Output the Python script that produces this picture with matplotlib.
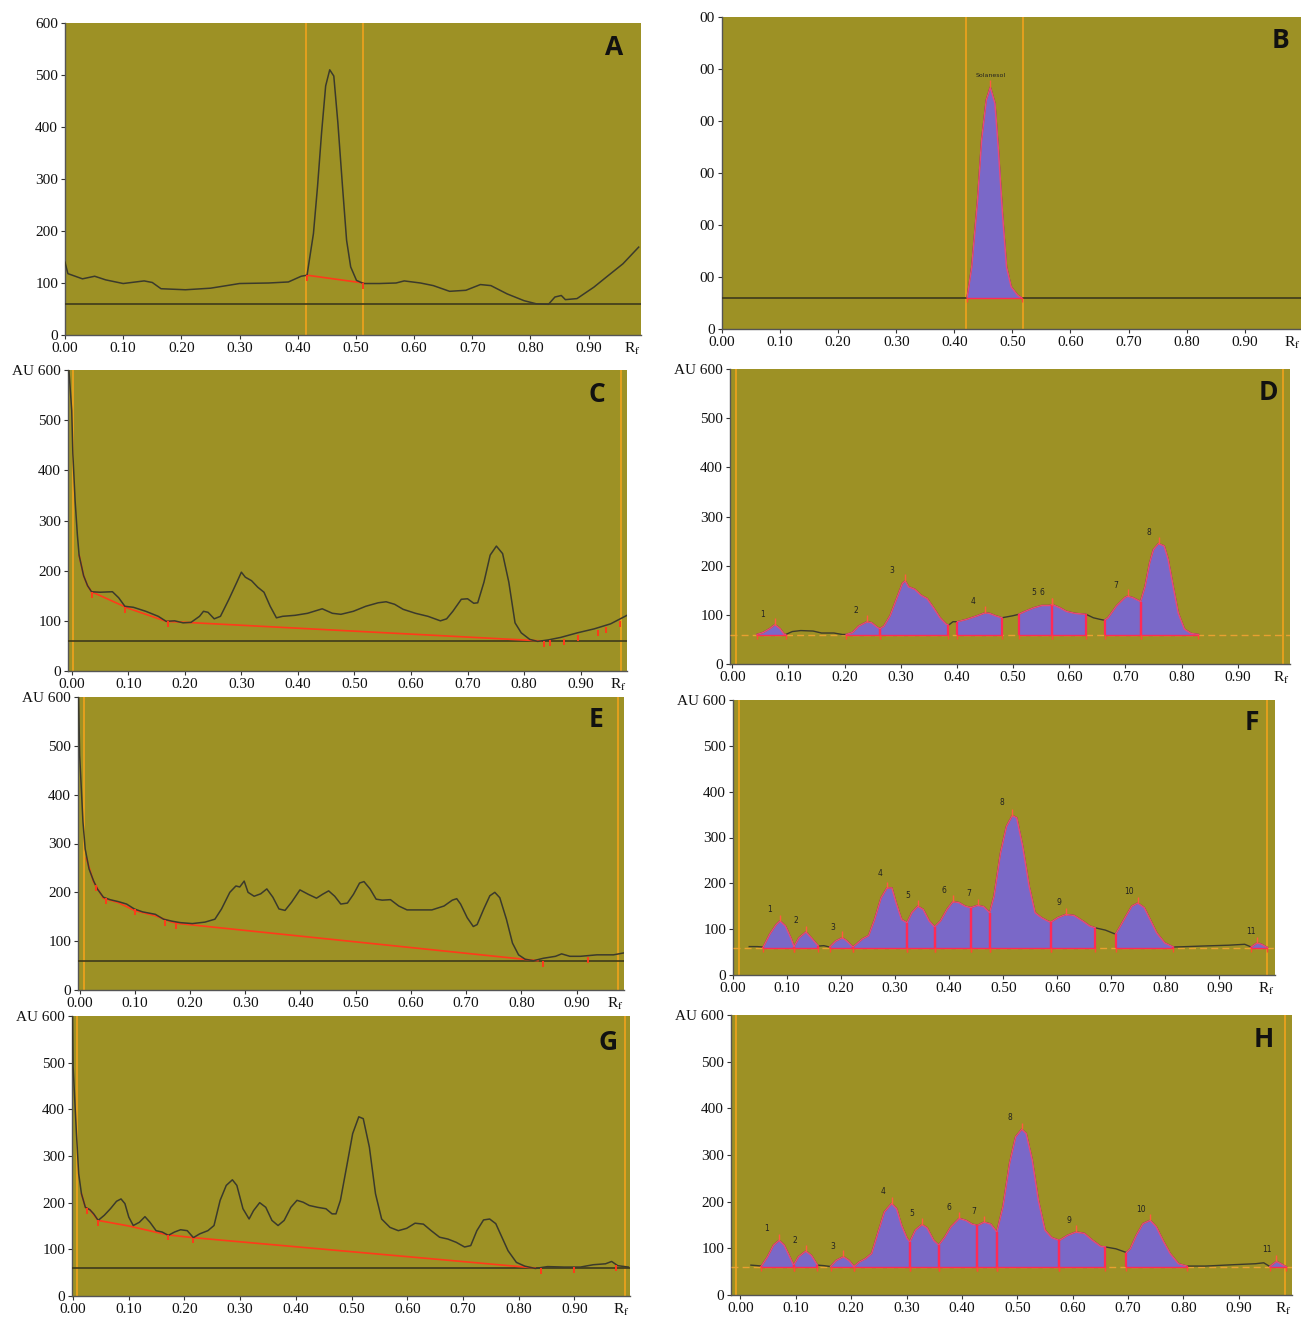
import numpy as np
import matplotlib
matplotlib.use('Agg')
import matplotlib.pyplot as plt

plt.rcParams['font.family'] = ['Liberation Serif', 'DejaVu Serif']
plt.rcParams['mathtext.fontset'] = 'stix'

# ---------------- data (Rf, AU) ----------------
x_ticks = [0.0, 0.1, 0.2, 0.3, 0.4, 0.5, 0.6, 0.7, 0.8, 0.9]
x_tick_labels = ['0.00', '0.10', '0.20', '0.30', '0.40', '0.50', '0.60', '0.70', '0.80', '0.90']
y_ticks = [0, 100, 200, 300, 400, 500, 600]
baseline_au = 60

# A: standard, raw scan
a_rf = [0.000, 0.005, 0.03, 0.051, 0.07, 0.10, 0.136, 0.15, 0.165, 0.207, 0.25, 0.278, 0.30, 0.35,
        0.384, 0.406, 0.416, 0.427, 0.434, 0.441, 0.448, 0.455, 0.462, 0.469, 0.477, 0.484, 0.491,
        0.501, 0.513, 0.54, 0.569, 0.583, 0.611, 0.633, 0.661, 0.689, 0.714, 0.732, 0.76, 0.789,
        0.81, 0.831, 0.842, 0.853, 0.86, 0.88, 0.909, 0.93, 0.959, 0.986]
a_au = [140, 118, 108, 113, 106, 99, 104, 101, 89, 87, 90, 95, 99, 100,
        102, 113, 115, 195, 285, 389, 479, 510, 498, 408, 285, 182, 131,
        105, 99, 99, 100, 104, 100, 95, 84, 86, 97, 95, 79, 66,
        60, 59, 73, 76, 68, 70, 92, 111, 137, 169]
a_red_rf = [0.416, 0.513]
a_red_au = [115, 100]

# B: standard, integrated peak
b_rf = [0.422, 0.43, 0.44, 0.447, 0.455, 0.462, 0.47, 0.476, 0.483, 0.49, 0.498, 0.509, 0.516]
b_au = [60, 119, 248, 363, 440, 465, 434, 344, 222, 119, 81, 65, 60]
b_windows = [(0.422, 0.516)]
b_label = 'Solanesol'

# C: raw scan
c_rf = [-0.005, 0.0, 0.002, 0.006, 0.01, 0.013, 0.021, 0.028, 0.035, 0.05, 0.072, 0.083, 0.094, 0.109,
        0.131, 0.153, 0.167, 0.182, 0.197, 0.211, 0.226, 0.233, 0.241, 0.252, 0.263, 0.278, 0.292,
        0.30, 0.307, 0.318, 0.329, 0.34, 0.351, 0.362, 0.373, 0.395, 0.417, 0.443, 0.461, 0.476,
        0.498, 0.52, 0.542, 0.556, 0.571, 0.586, 0.608, 0.63, 0.652, 0.663, 0.674, 0.689, 0.70,
        0.711, 0.718, 0.729, 0.74, 0.751, 0.762, 0.773, 0.784, 0.795, 0.81, 0.824, 0.843, 0.865,
        0.894, 0.924, 0.953, 0.982]
c_au = [600, 519, 433, 339, 271, 231, 190, 170, 158, 157, 158, 146, 129, 127,
        119, 109, 99, 100, 96, 97, 109, 119, 117, 104, 109, 143, 177,
        197, 187, 180, 167, 157, 129, 106, 109, 111, 115, 124, 115, 113,
        119, 129, 136, 138, 133, 123, 115, 109, 100, 104, 119, 143, 144,
        135, 136, 177, 231, 249, 234, 177, 96, 76, 63, 59, 62, 67,
        76, 84, 94, 111]
c_red_rf = [0.013, 0.021, 0.028, 0.035, 0.10, 0.167, 0.83]
c_red_au = [231, 190, 170, 158, 125, 99, 60]
c_tick_rf = [0.035, 0.095, 0.17, 0.835, 0.845, 0.87, 0.895, 0.93, 0.945, 0.97]
c_tick_au = [158, 128, 99, 60, 61, 64, 72, 82, 88, 100]

# D: integrated version of C
d_rf = [0.044, 0.055, 0.067, 0.076, 0.085, 0.092, 0.095, 0.107, 0.122, 0.144, 0.159, 0.181, 0.196,
        0.203, 0.214, 0.225, 0.24, 0.248, 0.259, 0.263, 0.27, 0.281, 0.292, 0.303, 0.308, 0.314,
        0.325, 0.336, 0.347, 0.358, 0.37, 0.381, 0.385, 0.393, 0.401, 0.418, 0.436, 0.45, 0.458,
        0.469, 0.48, 0.499, 0.51, 0.521, 0.536, 0.551, 0.564, 0.57, 0.584, 0.595, 0.61, 0.63,
        0.643, 0.654, 0.663, 0.669, 0.684, 0.699, 0.704, 0.713, 0.727, 0.735, 0.743, 0.75, 0.759,
        0.769, 0.776, 0.785, 0.794, 0.805, 0.817, 0.83]
d_au = [60, 64, 72, 80, 72, 61, 60, 66, 68, 67, 63, 63, 60,
        60, 64, 77, 86, 84, 74, 72, 77, 98, 131, 164, 169, 157,
        152, 140, 133, 115, 94, 81, 79, 86, 86, 91, 98, 104, 103,
        98, 94, 98, 101, 107, 114, 119, 119, 121, 114, 107, 103, 101,
        94, 91, 89, 94, 118, 135, 138, 135, 127, 158, 205, 233, 245,
        240, 213, 158, 104, 71, 62, 60]
d_windows = [(0.044, 0.095), (0.203, 0.263), (0.263, 0.385), (0.401, 0.48), (0.51, 0.57),
             (0.57, 0.63), (0.663, 0.727), (0.727, 0.83)]
d_lab_txt = ['1', '2', '3', '4', '5', '6', '7', '8']
d_lab_rf = [0.054, 0.22, 0.285, 0.429, 0.536, 0.551, 0.682, 0.741]
d_lab_au = [101, 108, 191, 128, 146, 146, 159, 268]

# E: raw scan
e_rf = [-0.002, 0.0, 0.006, 0.01, 0.017, 0.025, 0.032, 0.043, 0.055, 0.07, 0.085, 0.099, 0.114,
        0.137, 0.152, 0.167, 0.182, 0.204, 0.227, 0.245, 0.257, 0.272, 0.283, 0.29, 0.298, 0.305,
        0.316, 0.328, 0.339, 0.35, 0.361, 0.372, 0.384, 0.399, 0.414, 0.429, 0.44, 0.451, 0.462,
        0.473, 0.485, 0.496, 0.507, 0.515, 0.526, 0.537, 0.548, 0.563, 0.578, 0.593, 0.616, 0.638,
        0.66, 0.675, 0.683, 0.69, 0.702, 0.713, 0.72, 0.732, 0.743, 0.752, 0.761, 0.773, 0.784,
        0.795, 0.807, 0.822, 0.84, 0.862, 0.873, 0.888, 0.907, 0.937, 0.967, 0.986]
e_au = [600, 481, 344, 289, 248, 224, 207, 190, 185, 181, 176, 166, 160,
        155, 145, 141, 138, 136, 139, 145, 166, 200, 213, 211, 223, 200,
        192, 197, 207, 190, 166, 163, 180, 205, 196, 188, 196, 203, 192,
        176, 178, 196, 219, 222, 207, 186, 184, 185, 172, 164, 164, 164,
        172, 184, 187, 176, 148, 130, 134, 166, 193, 200, 189, 145, 96,
        72, 63, 60, 65, 69, 74, 69, 69, 72, 72, 76]
e_red_rf = [0.012, 0.025, 0.043, 0.07, 0.099, 0.137, 0.167, 0.18, 0.83]
e_red_au = [270, 222, 188, 179, 163, 152, 139, 136, 60]
e_tick_rf = [0.03, 0.048, 0.10, 0.155, 0.175, 0.84, 0.92]
e_tick_au = [215, 188, 165, 143, 137, 60, 68]

# F: integrated version of G
f_rf = [0.03, 0.045, 0.056, 0.068, 0.08, 0.087, 0.097, 0.107, 0.113, 0.122, 0.135, 0.145, 0.158,
        0.168, 0.179, 0.19, 0.202, 0.209, 0.222, 0.228, 0.24, 0.251, 0.262, 0.274, 0.285, 0.294,
        0.302, 0.312, 0.322, 0.331, 0.342, 0.352, 0.363, 0.373, 0.384, 0.396, 0.407, 0.418, 0.43,
        0.44, 0.453, 0.464, 0.475, 0.483, 0.495, 0.506, 0.517, 0.525, 0.536, 0.548, 0.559, 0.571,
        0.582, 0.588, 0.601, 0.616, 0.631, 0.647, 0.66, 0.67, 0.689, 0.708, 0.715, 0.727, 0.738,
        0.749, 0.761, 0.772, 0.784, 0.799, 0.815, 0.841, 0.864, 0.917, 0.947, 0.959, 0.97, 0.978,
        0.989]
f_au = [62, 62, 61, 89, 110, 118, 107, 81, 62, 81, 94, 81, 63,
        64, 61, 74, 81, 76, 61, 67, 79, 86, 121, 168, 190, 190,
        157, 121, 114, 136, 150, 143, 118, 105, 118, 143, 160, 158, 150,
        147, 152, 149, 136, 172, 266, 324, 348, 343, 281, 194, 136, 125,
        118, 115, 125, 132, 130, 118, 107, 103, 98, 89, 103, 128, 150,
        157, 147, 121, 92, 70, 61, 62, 63, 65, 67, 61, 70, 67,
        60]
f_windows = [(0.056, 0.113), (0.113, 0.158), (0.179, 0.222), (0.222, 0.322), (0.322, 0.373),
             (0.373, 0.44), (0.44, 0.475), (0.475, 0.588), (0.588, 0.67), (0.708, 0.815),
             (0.959, 0.989)]
f_lab_txt = ['1', '2', '3', '4', '5', '6', '7', '8', '9', '10', '11']
f_lab_rf = [0.067, 0.116, 0.184, 0.272, 0.323, 0.39, 0.436, 0.498, 0.603, 0.733, 0.959]
f_lab_au = [143, 118, 103, 221, 173, 185, 178, 377, 159, 183, 96]

# G: raw scan
g_rf = [-0.001, 0.0, 0.006, 0.01, 0.015, 0.022, 0.03, 0.037, 0.045, 0.056, 0.067, 0.078, 0.086,
        0.093, 0.10, 0.108, 0.119, 0.129, 0.138, 0.149, 0.16, 0.171, 0.182, 0.193, 0.205, 0.216,
        0.227, 0.242, 0.253, 0.264, 0.275, 0.286, 0.294, 0.305, 0.316, 0.324, 0.335, 0.346, 0.357,
        0.368, 0.379, 0.391, 0.402, 0.413, 0.424, 0.439, 0.454, 0.465, 0.472, 0.48, 0.491, 0.502,
        0.513, 0.521, 0.532, 0.543, 0.554, 0.569, 0.584, 0.599, 0.614, 0.629, 0.643, 0.658, 0.673,
        0.688, 0.703, 0.714, 0.725, 0.737, 0.748, 0.759, 0.77, 0.781, 0.796, 0.811, 0.83, 0.852,
        0.882, 0.911, 0.934, 0.956, 0.967, 0.978, 0.997]
g_au = [600, 491, 348, 262, 219, 190, 185, 176, 162, 173, 187, 203, 208,
        198, 169, 151, 158, 170, 158, 140, 137, 130, 137, 142, 140, 125,
        133, 140, 151, 205, 237, 249, 237, 187, 165, 183, 200, 190, 162,
        151, 162, 190, 205, 201, 194, 190, 187, 176, 176, 205, 276, 348,
        384, 380, 319, 219, 165, 147, 140, 145, 156, 154, 140, 126, 122,
        115, 105, 108, 140, 163, 165, 155, 126, 97, 72, 64, 59, 63,
        62, 62, 67, 69, 74, 65, 62]
g_red_rf = [0.015, 0.022, 0.03, 0.045, 0.10, 0.17, 0.216, 0.83]
g_red_au = [219, 190, 185, 162, 150, 131, 125, 60]
g_tick_rf = [0.025, 0.045, 0.17, 0.216, 0.84, 0.90, 0.975]
g_tick_au = [188, 162, 131, 125, 60, 62, 66]

# H: integrated scan
h_rf = [0.019, 0.03, 0.038, 0.049, 0.06, 0.07, 0.079, 0.089, 0.096, 0.105, 0.118, 0.128, 0.139,
        0.15, 0.163, 0.173, 0.186, 0.196, 0.205, 0.215, 0.226, 0.237, 0.248, 0.26, 0.273, 0.282,
        0.291, 0.301, 0.306, 0.316, 0.328, 0.337, 0.349, 0.358, 0.369, 0.38, 0.395, 0.407, 0.418,
        0.428, 0.44, 0.452, 0.463, 0.474, 0.486, 0.497, 0.508, 0.516, 0.527, 0.538, 0.55, 0.562,
        0.576, 0.591, 0.606, 0.621, 0.636, 0.651, 0.659, 0.678, 0.697, 0.704, 0.715, 0.727, 0.74,
        0.751, 0.763, 0.776, 0.791, 0.806, 0.84, 0.892, 0.93, 0.945, 0.956, 0.968, 0.979, 0.986]
h_au = [64, 63, 62, 82, 107, 117, 107, 82, 64, 82, 94, 85, 64,
        63, 61, 74, 82, 74, 61, 71, 78, 89, 132, 178, 196, 185,
        149, 121, 114, 139, 151, 144, 117, 107, 124, 146, 164, 160, 152,
        149, 156, 152, 135, 189, 282, 339, 355, 346, 289, 203, 139, 123,
        117, 128, 135, 132, 117, 104, 103, 99, 91, 99, 128, 153, 160,
        146, 117, 89, 67, 62, 62, 65, 67, 69, 61, 72, 65, 60]
h_windows = [(0.038, 0.096), (0.096, 0.139), (0.163, 0.205), (0.205, 0.306), (0.306, 0.358),
             (0.358, 0.428), (0.428, 0.463), (0.463, 0.576), (0.576, 0.659), (0.697, 0.806),
             (0.956, 0.986)]
h_lab_txt = ['1', '2', '3', '4', '5', '6', '7', '8', '9', '10', '11']
h_lab_rf = [0.047, 0.098, 0.167, 0.257, 0.309, 0.376, 0.422, 0.487, 0.593, 0.724, 0.951]
h_lab_au = [142, 117, 104, 221, 175, 187, 180, 380, 160, 183, 98]

# ---------------- layout (pixel boxes: left, top, right, bottom) ----------------
W, H = 1301, 1319
layout = {
    'A': dict(box=(65, 23, 641, 335), xlim=(0.0, 0.99), letter=(0.953, 0.923), marks=[0.415, 0.513]),
    'B': dict(box=(722, 17, 1301, 329), xlim=(0.0, 0.997), letter=(0.965, 0.926), marks=[0.42, 0.518]),
    'C': dict(box=(68, 370, 627, 671), xlim=(-0.0066, 0.982), letter=(0.946, 0.917), marks=[0.003, 0.971]),
    'D': dict(box=(730, 369, 1290, 664), xlim=(-0.004, 0.993), letter=(0.962, 0.922), marks=[0.007, 0.981]),
    'E': dict(box=(78, 697, 624, 990), xlim=(-0.003, 0.986), letter=(0.949, 0.922), marks=[0.007, 0.976]),
    'F': dict(box=(733, 700, 1275, 975), xlim=(0.004, 1.003), letter=(0.958, 0.92), marks=[0.011, 0.989]),
    'G': dict(box=(72, 1016, 630, 1296), xlim=(-0.002, 1.0), letter=(0.96, 0.907), marks=[0.007, 0.991]),
    'H': dict(box=(731, 1015, 1292, 1295), xlim=(-0.017, 0.996), letter=(0.95, 0.911), marks=[-0.008, 0.984]),
}

OLIVE = '#9d9125'
PURPLE = '#7a68c8'
RED = '#ff2a55'
ORANGE = '#f0a21c'
TRACE = '#3b3a2c'
DARKLINE = '#3e3a1c'

fig = plt.figure(figsize=(W / 100, H / 100), dpi=100)


def make_axes(key, ylabels):
    p = layout[key]
    l, t, r, b = p['box']
    ax = fig.add_axes([l / W, 1 - b / H, (r - l) / W, (b - t) / H])
    ax.set_facecolor(OLIVE)
    ax.set_xlim(*p['xlim'])
    ax.set_ylim(0, 600)
    ax.set_xticks(x_ticks)
    ax.set_xticklabels(x_tick_labels)
    ax.set_yticks(y_ticks)
    ax.set_yticklabels(ylabels)
    ax.tick_params(labelsize=11, length=3, width=0.8, colors='#333333', labelcolor='#111111', pad=2)
    for s in ['top', 'right']:
        ax.spines[s].set_visible(False)
    for s in ['left', 'bottom']:
        ax.spines[s].set_color('#555555')
        ax.spines[s].set_linewidth(1.0)
    for m in p['marks']:
        ax.axvline(m, color=ORANGE, lw=1.2, zorder=2)
    ax.text(p['letter'][0], p['letter'][1], key, transform=ax.transAxes, ha='center', va='center',
            fontsize=19, fontweight='bold', family=['Open Sans', 'DejaVu Sans'], color='#111111', zorder=6)
    ax.annotate(r'R$_\mathrm{f}$', xy=(1.0, 0), xycoords='axes fraction', xytext=(0, -4),
                textcoords='offset points', ha='right', va='top', fontsize=11, color='#111111')
    return ax


def draw_raw(ax, rf, au, red_rf, red_au, tick_rf, tick_au):
    ax.axhline(baseline_au, color=DARKLINE, lw=1.2, zorder=3)
    ax.plot(red_rf, red_au, color='#ff3a1a', lw=1.2, zorder=4)
    ax.plot(rf, au, color=TRACE, lw=1.1, zorder=5)
    tick_au = np.asarray(tick_au)
    ax.vlines(tick_rf, tick_au - 12, tick_au, color='#ff3a1a', lw=1.4, zorder=6)


def draw_integrated(ax, rf, au, windows, lab_txt, lab_rf, lab_au, solid_base=False):
    rf = np.asarray(rf)
    au = np.asarray(au)
    if solid_base:
        ax.axhline(baseline_au, color=DARKLINE, lw=1.2, zorder=3)
    else:
        ax.axhline(baseline_au, color='#e8a030', lw=1.0, ls=(0, (5, 3)), zorder=3)
    ax.plot(rf, au, color=TRACE, lw=1.0, zorder=4)
    for lo, hi in windows:
        m = (rf >= lo - 1e-9) & (rf <= hi + 1e-9)
        ax.fill_between(rf[m], baseline_au, au[m], color=PURPLE, lw=0, zorder=4)
        ax.plot(rf[m], au[m], color='#e84a78', lw=1.1, zorder=5)
        ax.plot([lo, hi], [baseline_au, baseline_au], color=RED, lw=1.0, zorder=5)
        for edge in (lo, hi):
            top = au[np.argmin(np.abs(rf - edge))]
            ax.vlines(edge, baseline_au, top, color=RED, lw=1.6, zorder=6)
            ax.vlines(edge, baseline_au - 9, baseline_au, color='#ff4a30', lw=1.0, zorder=6)
        k = np.argmax(au[m])
        ax.vlines(rf[m][k], au[m][k], au[m][k] + 14, color='#ff5a40', lw=1.0, zorder=6)
    for t, x, y in zip(lab_txt, lab_rf, lab_au):
        ax.text(x, y, t, fontsize=5.5, family='DejaVu Sans', color='#222222',
                ha='center', va='center', zorder=7)


plain_labels = ['0', '100', '200', '300', '400', '500', '600']
au_labels = ['0', '100', '200', '300', '400', '500', 'AU 600']
cut_labels = ['0', '00', '00', '00', '00', '00', '00']

ax = make_axes('A', plain_labels)
draw_raw(ax, a_rf, a_au, a_red_rf, a_red_au, a_red_rf, a_red_au)

ax = make_axes('B', cut_labels)
draw_integrated(ax, b_rf, b_au, b_windows, [], [], [], solid_base=True)
ax.text(b_rf[int(np.argmax(b_au))], max(b_au) + 22, b_label, fontsize=4.5, family='DejaVu Sans',
        color='#222222', ha='center', va='center')

ax = make_axes('C', au_labels)
draw_raw(ax, c_rf, c_au, c_red_rf, c_red_au, c_tick_rf, c_tick_au)

ax = make_axes('D', au_labels)
draw_integrated(ax, d_rf, d_au, d_windows, d_lab_txt, d_lab_rf, d_lab_au)

ax = make_axes('E', au_labels)
draw_raw(ax, e_rf, e_au, e_red_rf, e_red_au, e_tick_rf, e_tick_au)

ax = make_axes('F', au_labels)
draw_integrated(ax, f_rf, f_au, f_windows, f_lab_txt, f_lab_rf, f_lab_au)

ax = make_axes('G', au_labels)
draw_raw(ax, g_rf, g_au, g_red_rf, g_red_au, g_tick_rf, g_tick_au)

ax = make_axes('H', au_labels)
draw_integrated(ax, h_rf, h_au, h_windows, h_lab_txt, h_lab_rf, h_lab_au)

fig.savefig('out.png', dpi=100, facecolor='white')
